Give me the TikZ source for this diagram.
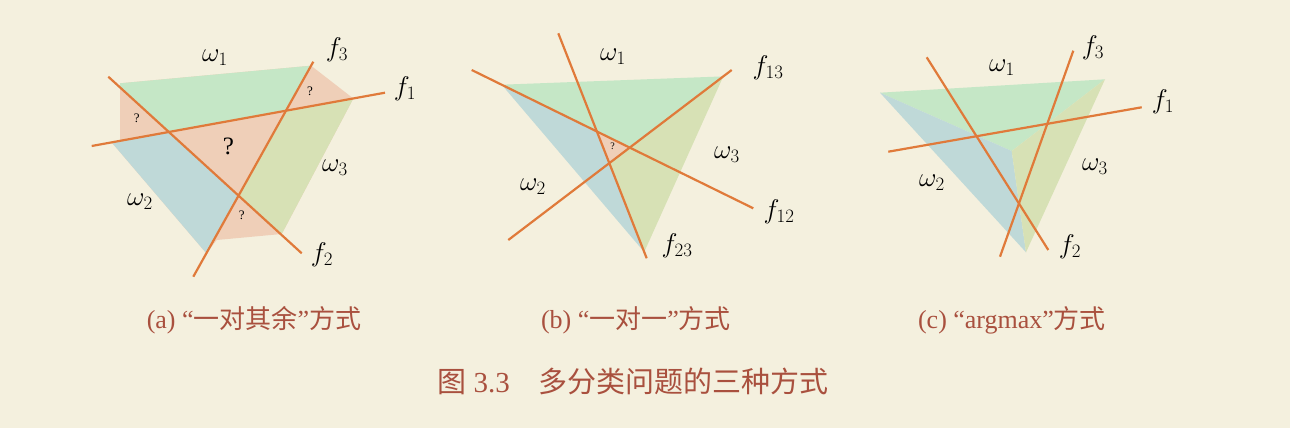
\documentclass[tikz,border=0pt]{standalone}
\usepackage{fix-cm}
\usepackage{fontspec}
\setmainfont{Liberation Serif}
\newfontfamily\cjk{Noto Sans CJK SC}
\usetikzlibrary{calc}
\definecolor{paper}{RGB}{244,240,222}
\definecolor{cutline}{RGB}{224,122,58}
\definecolor{wgreen}{RGB}{197,231,198}
\definecolor{wblue}{RGB}{191,217,216}
\definecolor{wolive}{RGB}{215,225,181}
\definecolor{wpink}{RGB}{239,207,184}
\definecolor{capred}{RGB}{169,80,62}

\begin{document}
\begin{tikzpicture}[x=1pt, y=-1pt,
  cut/.style={draw=cutline, line width=2.2pt},
  lbl/.style={font=\fontsize{27}{29}\selectfont},
  qsmall/.style={font=\fontsize{13}{14}\selectfont},
  qbig/.style={font=\fontsize{25}{27}\selectfont},
  subcap/.style={text=capred, font=\fontsize{26}{28}\selectfont}]
  \fill[paper] (0,0) rectangle (1290,428);
  \useasboundingbox (0,0) rectangle (1290,428);

  % (a) one against the rest
  \coordinate (a1s) at (91.7,146);   \coordinate (a1e) at (385,92.7);
  \coordinate (a2s) at (108.3,76.7); \coordinate (a2e) at (301.7,253.3);
  \coordinate (a3s) at (193.3,276.7);\coordinate (a3e) at (313.3,61.7);
  \coordinate (aTL) at (120,83.3);   \coordinate (aTR) at (311.1,65.7);
  \coordinate (aR) at (353.3,98.5);  \coordinate (aBR) at (281.7,234);
  \coordinate (aB) at (216.7,240);   \coordinate (aBL) at (206.4,253.3);
  \coordinate (aL) at (111.7,142.4); \coordinate (aL2) at (120,140.9);
  \coordinate (a12) at (intersection of a1s--a1e and a2s--a2e);
  \coordinate (a13) at (intersection of a1s--a1e and a3s--a3e);
  \coordinate (a23) at (intersection of a2s--a2e and a3s--a3e);
  \coordinate (a2L) at (intersection of a2s--a2e and aTL--aL2);
  \fill[wpink] (aTL) -- (aTR) -- (aR) -- (aBR) -- (aB) -- (aBL) -- (aL) -- (aL2) -- cycle;
  \fill[wgreen] (aTL) -- (aTR) -- (a13) -- (a12) -- (a2L) -- cycle;
  \fill[wblue] (aL) -- (a12) -- (a23) -- (aBL) -- cycle;
  \fill[wolive] (a13) -- (aR) -- (aBR) -- (a23) -- cycle;
  \draw[cut] (a1s) -- (a1e);
  \draw[cut] (a2s) -- (a2e);
  \draw[cut] (a3s) -- (a3e);
  \node[lbl] (aw1) at (215,58) {$\omega_1$};
  \node[lbl] (aw2) at (140,202) {$\omega_2$};
  \node[lbl] (aw3) at (335,168) {$\omega_3$};
  \node[lbl] (af1) at (405,89) {$f_1$};
  \node[lbl] (af2) at (322,255) {$f_2$};
  \node[lbl] (af3) at (337,50) {$f_3$};
  \node[qsmall] (aq1) at (136.7,118.3) {?};
  \node[qsmall] (aq2) at (310,91.7) {?};
  \node[qbig] (aq3) at (228.3,146.7) {?};
  \node[qsmall] (aq4) at (241.7,215) {?};
  \node[subcap] (acap) at (254,320) {(a) “{\cjk 一对其余}”{\cjk 方式}};

  % (b) one against one
  \coordinate (b12s) at (471.7,70);  \coordinate (b12e) at (753.3,208.3);
  \coordinate (b13s) at (508.3,240); \coordinate (b13e) at (731.7,70);
  \coordinate (b23s) at (558.3,33.3);\coordinate (b23e) at (646.7,258.3);
  \coordinate (bTL) at (501.7,84.7); \coordinate (bTR) at (723.3,76.4);
  \coordinate (bB) at (644.2,252);
  \coordinate (bx1) at (intersection of b12s--b12e and b13s--b13e);
  \coordinate (bx2) at (intersection of b12s--b12e and b23s--b23e);
  \coordinate (bx3) at (intersection of b13s--b13e and b23s--b23e);
  \fill[wgreen] (bTL) -- (bTR) -- (bx1) -- (bx2) -- cycle;
  \fill[wblue] (bTL) -- (bx2) -- (bB) -- cycle;
  \fill[wolive] (bTR) -- (bB) -- (bx3) -- (bx1) -- cycle;
  \fill[wpink] (bx1) -- (bx2) -- (bx3) -- cycle;
  \draw[cut] (b12s) -- (b12e);
  \draw[cut] (b13s) -- (b13e);
  \draw[cut] (b23s) -- (b23e);
  \node[lbl] (bw1) at (613,57) {$\omega_1$};
  \node[lbl] (bw2) at (533,187) {$\omega_2$};
  \node[lbl] (bw3) at (727,155) {$\omega_3$};
  \node[lbl] (bf13) at (768,68) {$f_{13}$};
  \node[lbl] (bf12) at (779,212) {$f_{12}$};
  \node[lbl] (bf23) at (677,246) {$f_{23}$};
  \node[font=\fontsize{10}{11}\selectfont] (bq) at (612.7,146.7) {?};
  \node[subcap] (bcap) at (636,320) {(b) “{\cjk 一对一}”{\cjk 方式}};

  % (c) argmax
  \coordinate (c1s) at (888.3,151.7); \coordinate (c1e) at (1141.7,107.3);
  \coordinate (c2s) at (926.7,57.3);  \coordinate (c2e) at (1048.3,250);
  \coordinate (c3s) at (1000,256.7);  \coordinate (c3e) at (1073.3,50.7);
  \coordinate (cTL) at (880,92.7);    \coordinate (cTR) at (1105,79.3);
  \coordinate (cB) at (1026,252.3);   \coordinate (cC) at (1011.7,151);
  \fill[wgreen] (cTL) -- (cTR) -- (cC) -- cycle;
  \fill[wblue] (cTL) -- (cC) -- (cB) -- cycle;
  \fill[wolive] (cTR) -- (cB) -- (cC) -- cycle;
  \draw[cut] (c1s) -- (c1e);
  \draw[cut] (c2s) -- (c2e);
  \draw[cut] (c3s) -- (c3e);
  \node[lbl] (cw1) at (1002,68) {$\omega_1$};
  \node[lbl] (cw2) at (932,183) {$\omega_2$};
  \node[lbl] (cw3) at (1095,167) {$\omega_3$};
  \node[lbl] (cf1) at (1163,102) {$f_1$};
  \node[lbl] (cf2) at (1070,247) {$f_2$};
  \node[lbl] (cf3) at (1093,48) {$f_3$};
  \node[subcap] (ccap) at (1012,320) {(c) “argmax”{\cjk 方式}};

  \node[subcap, font=\fontsize{29}{31}\selectfont] (figcap) at (633,381) {{\cjk 图} 3.3\quad{\cjk 多分类问题的三种方式}};
\end{tikzpicture}
\end{document}
